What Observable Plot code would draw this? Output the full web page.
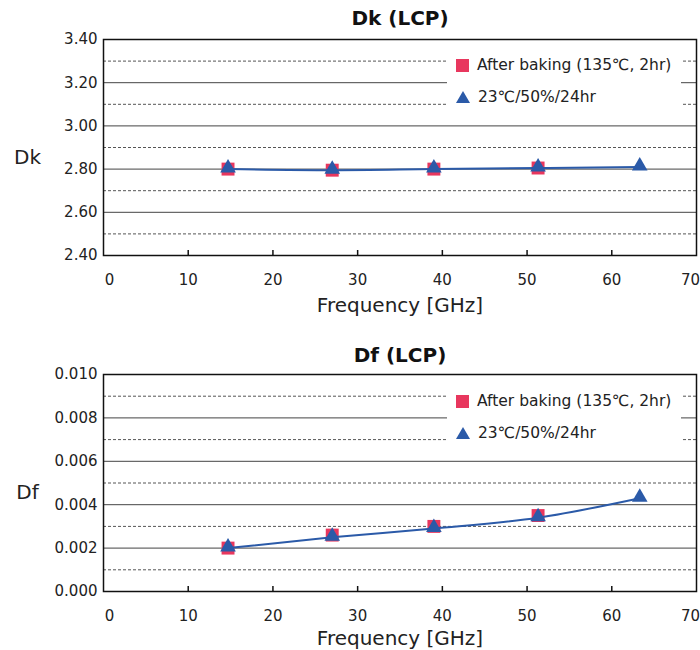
<!DOCTYPE html>
<html>
<head>
<meta charset="utf-8">
<script src="https://cdn.jsdelivr.net/npm/d3@7"></script>
<script src="https://cdn.jsdelivr.net/npm/@observablehq/plot@0.6"></script>
<style>
  html, body { margin: 0; padding: 0; background: #fff; }
  #wrap { position: relative; width: 700px; height: 650px; overflow: hidden; font-family: "DejaVu Sans", sans-serif; color: #222; }
  .chart { position: absolute; left: 0; }
  .legend { position: absolute; background: #fff; }
  .legend .item { position: absolute; left: 9px; height: 14px; line-height: 14px; display: flex; align-items: center; font-size: 15.5px; white-space: nowrap; color: #222; }
  .legend .item svg { margin-right: 8px; flex: none; }
</style>
</head>
<body>
<div id="wrap"></div>
<script>
// ---- data ----
const frequency = [14.7, 27.0, 39.0, 51.3, 63.3];
const seriesNames = ["After baking (135℃, 2hr)", "23℃/50%/24hr"];
const dkBaked = [2.800, 2.795, 2.800, 2.805];
const dkHumid = [2.800, 2.795, 2.800, 2.805, 2.810];
const dfBaked = [0.0020, 0.0026, 0.0030, 0.0035];
const dfHumid = [0.0020, 0.0025, 0.0029, 0.0034, 0.0043];
const xTicks = [0, 10, 20, 30, 40, 50, 60, 70];
const dkMajor = [2.40, 2.60, 2.80, 3.00, 3.20, 3.40];
const dkMinor = [2.50, 2.70, 2.90, 3.10, 3.30];
const dfMajor = [0.000, 0.002, 0.004, 0.006, 0.008, 0.010];
const dfMinor = [0.001, 0.003, 0.005, 0.007, 0.009];

const RED = "#e8375e";
const BLUE = "#2b5aa8";
const FONT = "\"DejaVu Sans\", sans-serif";

function makeChart(cfg) {
  const baked = cfg.baked.map((v, i) => ({x: frequency[i], y: v}));
  const humid = cfg.humid.map((v, i) => ({x: frequency[i], y: v}));
  const inner = cfg.major.slice(1, -1);
  const midTicks = xTicks.slice(1, -1);
  const plotH = 325 - cfg.marginTop - cfg.marginBottom;
  const [lo, hi] = cfg.domain;
  const tickLen = (hi - lo) * 5 / plotH; // 5px inward tick, in data units
  const axisOpts = {tickSize: 0, tickPadding: 19, label: null, fontSize: 15, tickFormat: d => String(d)};
  return Plot.plot({
    width: 700,
    height: 325,
    marginLeft: 103,
    marginRight: 4,
    marginTop: cfg.marginTop,
    marginBottom: cfg.marginBottom,
    style: {fontFamily: FONT, fontSize: "15px", color: "#222", background: "transparent", overflow: "visible"},
    x: {domain: [0, 70]},
    y: {domain: cfg.domain},
    marks: [
      Plot.ruleY(cfg.minor, {stroke: "#555", strokeWidth: 1, strokeDasharray: "3,2"}),
      Plot.ruleY(inner, {stroke: "#444", strokeWidth: 1}),
      Plot.axisY({ticks: cfg.major, tickFormat: cfg.fmt, tickSize: 0, tickPadding: 6, label: null, fontSize: 15}),
      // inward tick marks on the bottom edge
      Plot.ruleX(midTicks, {x: d => d, y1: lo, y2: lo + tickLen, stroke: "#111", strokeWidth: 1.5}),
      // tick labels
      Plot.axisX({...axisOpts, ticks: midTicks}),
      Plot.axisX({...axisOpts, ticks: [xTicks[0]], dx: 6}),
      Plot.axisX({...axisOpts, ticks: [xTicks[xTicks.length - 1]], dx: -6}),
      Plot.frame({stroke: "#111", strokeWidth: 1.5}),
      Plot.dot(baked, {x: "x", y: "y", symbol: "square", r: 7.3, fill: RED, stroke: "none"}),
      Plot.line(humid, {x: "x", y: "y", stroke: BLUE, strokeWidth: 2, curve: "monotone-x"}),
      Plot.dot(humid, {x: "x", y: "y", symbol: "triangle", r: 5.8, fill: BLUE, stroke: "none", dy: -1}),
      Plot.text([cfg.title], {frameAnchor: "top", lineAnchor: "middle", textAnchor: "middle", dy: cfg.titleDy, fontSize: 20, fontWeight: "bold", fill: "#111"}),
      Plot.text([cfg.ylabel], {frameAnchor: "left", lineAnchor: "middle", textAnchor: "middle", dx: -76, dy: 10, fontSize: 20, fill: "#222"}),
      Plot.text(["Frequency [GHz]"], {frameAnchor: "bottom", lineAnchor: "middle", textAnchor: "middle", dy: cfg.xlabelDy, fontSize: 20, fill: "#222"})
    ]
  });
}

const wrap = document.getElementById("wrap");

const c1 = makeChart({
  baked: dkBaked, humid: dkHumid, domain: [2.40, 3.40], major: dkMajor, minor: dkMinor,
  fmt: d => d.toFixed(2), marginTop: 39, marginBottom: 70, title: "Dk (LCP)", titleDy: -21,
  ylabel: "Dk", xlabelDy: 50
});
c1.classList.add("chart"); c1.style.top = "0px";
wrap.appendChild(c1);

const c2 = makeChart({
  baked: dfBaked, humid: dfHumid, domain: [0, 0.010], major: dfMajor, minor: dfMinor,
  fmt: d => d.toFixed(3), marginTop: 49, marginBottom: 59, title: "Df (LCP)", titleDy: -19,
  ylabel: "Df", xlabelDy: 47
});
c2.classList.add("chart"); c2.style.top = "325px";
wrap.appendChild(c2);

function addLegend(top) {
  const lg = document.createElement("div");
  lg.className = "legend";
  lg.style.left = "447px"; lg.style.top = top + "px";
  lg.style.width = "234px"; lg.style.height = "60px";
  const sq = `<svg width="13" height="13"><rect width="13" height="13" fill="${RED}"/></svg>`;
  const tri = `<svg width="14" height="12"><path d="M7,0L14,12L0,12Z" fill="${BLUE}"/></svg>`;
  lg.innerHTML =
    `<div class="item" style="top:8px">${sq}<span>${seriesNames[0]}</span></div>` +
    `<div class="item" style="top:40px">${tri}<span>${seriesNames[1]}</span></div>`;
  wrap.appendChild(lg);
}
addLegend(50);
addLegend(386);
</script>
</body>
</html>
